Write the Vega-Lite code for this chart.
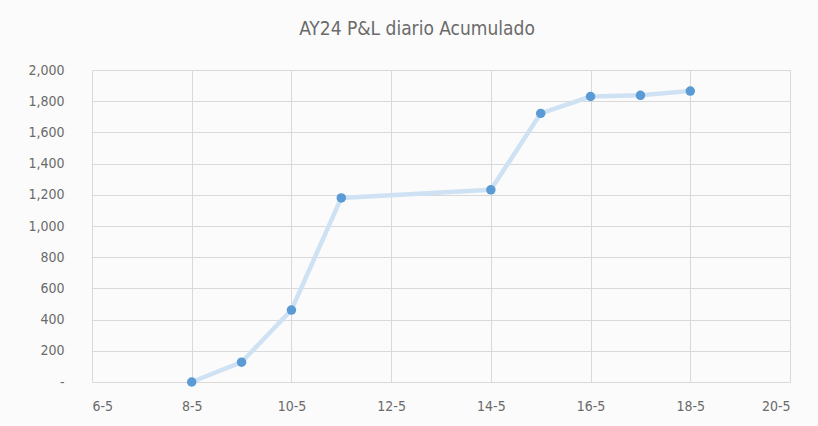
{
  "$schema": "https://vega.github.io/schema/vega-lite/v6.json",
  "width": 698,
  "height": 312,
  "autosize": {"type": "none"},
  "padding": {"left": 92, "top": 70, "right": 28, "bottom": 44},
  "background": "#fbfbfb",
  "title": {
    "text": "AY24 P&L diario Acumulado",
    "anchor": "middle",
    "offset": 24,
    "dx": -24,
    "font": "DejaVu Sans Condensed, Liberation Sans Narrow, sans-serif",
    "fontSize": 19,
    "fontWeight": "normal",
    "color": "#6a6a6a"
  },
  "config": {
    "view": {"stroke": null},
    "axis": {
      "labelFont": "DejaVu Sans Condensed, Liberation Sans Narrow, sans-serif",
      "labelFontSize": 14,
      "labelColor": "#6a6a6a",
      "gridColor": "#d9d9d9",
      "gridWidth": 1,
      "domain": false,
      "ticks": false
    }
  },
  "data": {
    "values": [
      {"dia": 8, "fecha": "8-5", "pnl": 0},
      {"dia": 9, "fecha": "9-5", "pnl": 127},
      {"dia": 10, "fecha": "10-5", "pnl": 461},
      {"dia": 11, "fecha": "11-5", "pnl": 1180},
      {"dia": 14, "fecha": "14-5", "pnl": 1232},
      {"dia": 15, "fecha": "15-5", "pnl": 1722},
      {"dia": 16, "fecha": "16-5", "pnl": 1830},
      {"dia": 17, "fecha": "17-5", "pnl": 1838},
      {"dia": 18, "fecha": "18-5", "pnl": 1865}
    ]
  },
  "encoding": {
    "x": {
      "field": "dia",
      "type": "quantitative",
      "scale": {"domain": [6, 20], "nice": false, "zero": false},
      "axis": {
        "title": null,
        "values": [6, 8, 10, 12, 14, 16, 18, 20],
        "labelExpr": "datum.value + '-5'",
        "labelPadding": 17,
        "grid": true
      }
    },
    "y": {
      "field": "pnl",
      "type": "quantitative",
      "scale": {"domain": [0, 2000], "nice": false},
      "axis": {
        "title": null,
        "values": [0, 200, 400, 600, 800, 1000, 1200, 1400, 1600, 1800, 2000],
        "labelExpr": "datum.value == 0 ? '-' : format(datum.value, ',')",
        "labelPadding": 28,
        "grid": true
      }
    }
  },
  "layer": [
    {
      "mark": {"type": "line", "interpolate": "linear", "color": "#cfe2f3", "strokeWidth": 4.5, "opacity": 1}
    },
    {
      "mark": {"type": "point", "filled": true, "color": "#5b9bd5", "size": 90, "opacity": 1}
    }
  ]
}
